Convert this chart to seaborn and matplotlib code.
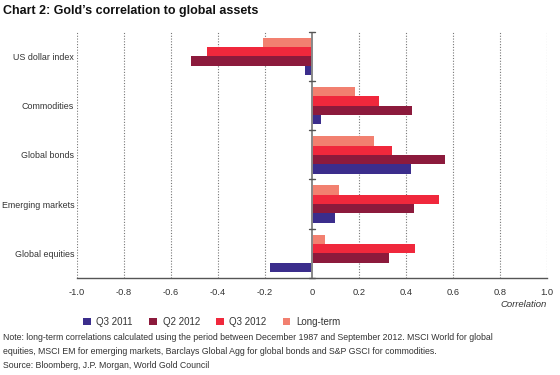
import pandas as pd
import matplotlib.pyplot as plt
import seaborn as sns
from matplotlib.patches import Patch

# Data
assets = ['US dollar index', 'Commodities', 'Global bonds', 'Emerging markets', 'Global equities']
q3_2011 = [-0.03, 0.04, 0.42, 0.10, -0.18]
q2_2012 = [-0.515, 0.425, 0.565, 0.435, 0.33]
q3_2012 = [-0.445, 0.285, 0.34, 0.54, 0.44]
long_term = [-0.21, 0.185, 0.265, 0.115, 0.055]
x_ticks = [-1.0, -0.8, -0.6, -0.4, -0.2, 0, 0.2, 0.4, 0.6, 0.8, 1.0]
x_ticklabels = ['-1.0', '-0.8', '-0.6', '-0.4', '-0.2', '0', '0.2', '0.4', '0.6', '0.8', '1.0']

series = {'Q3 2011': q3_2011, 'Q2 2012': q2_2012, 'Q3 2012': q3_2012, 'Long-term': long_term}
colors = {'Q3 2011': '#3b2d8c', 'Q2 2012': '#8c1a3c', 'Q3 2012': '#f0283c', 'Long-term': '#f28070'}

df = pd.DataFrame([
    {'asset': a, 'period': p, 'value': v}
    for p, vals in series.items() for a, v in zip(assets, vals)
])

sns.set_style('white')
plt.rcParams['font.family'] = ['Liberation Sans', 'DejaVu Sans']
text_col = '#333333'

fig = plt.figure(figsize=(5.6, 3.75), dpi=100)
ax = fig.add_axes([0.1375, 0.259, 0.839, 0.656])

# top-to-bottom order within each group
hue_order = ['Long-term', 'Q3 2012', 'Q2 2012', 'Q3 2011']
sns.barplot(data=df, y='asset', x='value', hue='period', order=assets,
            hue_order=hue_order, palette=colors, orient='h', width=0.76,
            saturation=1, ax=ax, legend=False, linewidth=0)

ax.set_xlim(-1.0, 1.0)
ax.set_ylim(len(assets) - 0.5, -0.5)
ax.set_xticks(x_ticks)
ax.set_xticklabels(x_ticklabels, fontsize=6.7, color=text_col)
ax.tick_params(axis='x', length=3, width=0.8, color='#555555', pad=4)
ax.tick_params(axis='y', length=0, pad=2, labelsize=6.4, labelcolor=text_col)
ax.set_xlabel('')
ax.set_ylabel('')

for s in ['top', 'right', 'left']:
    ax.spines[s].set_visible(False)
ax.spines['bottom'].set_color('#555555')
ax.spines['bottom'].set_linewidth(1.0)

# dotted vertical gridlines
for t in x_ticks:
    if t != 0:
        ax.axvline(t, color='#777777', lw=0.8, ls=(0, (1, 1.5)), zorder=0)
ax.axvline(0, color='#888888', lw=1.4, zorder=3)
# small category separator ticks on the zero line
for i in range(len(assets) + 1):
    ax.plot([-0.012, 0.012], [i - 0.5, i - 0.5], color='#555555', lw=1.0,
            zorder=3, clip_on=False)

fig.text(0.977, 0.189, 'Correlation', ha='right', va='center', fontsize=6.8,
         style='italic', color=text_col)

handles = [Patch(facecolor=colors[p], edgecolor='none') for p in series]
fig.legend(handles, list(series), loc='center left', bbox_to_anchor=(0.133, 0.141),
           ncol=4, frameon=False, fontsize=7, handlelength=0.75, handleheight=0.75,
           handletextpad=0.6, columnspacing=1.7, labelcolor=text_col)

fig.text(0.006, 0.97, 'Chart 2: Gold\u2019s correlation to global assets', ha='left',
         va='center', fontsize=9, fontweight='bold', color='#111111')
fig.text(0.006, 0.101, 'Note: long-term correlations calculated using the period between '
         'December 1987 and September 2012. MSCI World for global',
         fontsize=6.3, color=text_col, va='center')
fig.text(0.006, 0.064, 'equities, MSCI EM for emerging markets, Barclays Global Agg for '
         'global bonds and S&P GSCI for commodities.',
         fontsize=6.3, color=text_col, va='center')
fig.text(0.006, 0.024, 'Source: Bloomberg, J.P. Morgan, World Gold Council',
         fontsize=6.3, color=text_col, va='center')

fig.savefig('out.png', dpi=100)
